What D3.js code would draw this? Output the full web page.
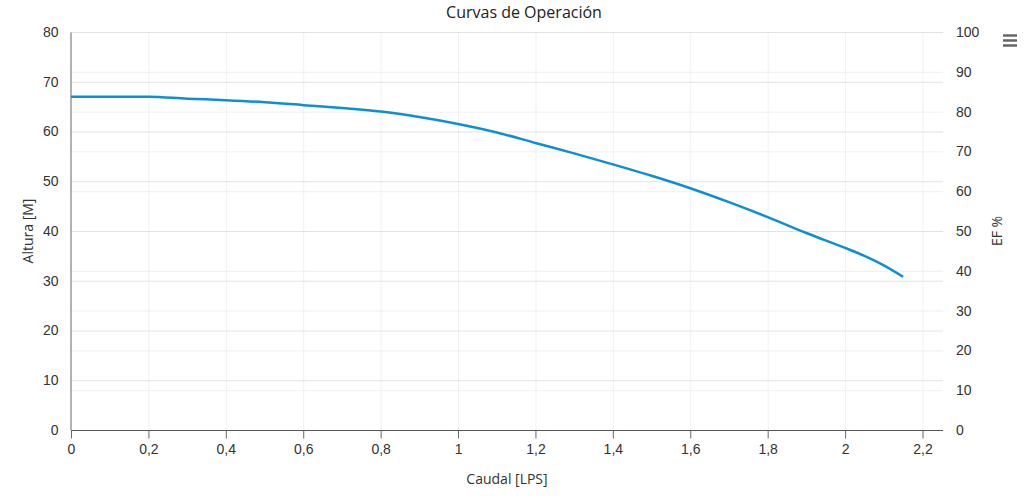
<!DOCTYPE html>
<html>
<head>
<meta charset="utf-8">
<script src="https://cdn.jsdelivr.net/npm/d3@7"></script>
<style>
  body { margin: 0; background: #fff; }
  svg { font-family: "Open Sans", "Noto Sans", sans-serif; }
</style>
</head>
<body>
<svg id="chart" width="1024" height="501"></svg>
<script>
// caudal (LPS) and altura (M)
var caudal = [0, 0.2, 0.3, 0.4, 0.5, 0.6, 0.7, 0.8, 0.9, 1.0, 1.1, 1.2, 1.3, 1.4, 1.5, 1.6, 1.7, 1.8, 1.9, 2.0, 2.05, 2.1, 2.15];
var altura = [67, 67, 66.6, 66.3, 65.9, 65.3, 64.7, 64.0, 62.9, 61.5, 59.8, 57.7, 55.6, 53.4, 51.1, 48.6, 45.8, 42.8, 39.6, 36.6, 35.0, 33.1, 30.8];
var xTicks = [0, 0.2, 0.4, 0.6, 0.8, 1, 1.2, 1.4, 1.6, 1.8, 2, 2.2];
var leftTicks = [0, 10, 20, 30, 40, 50, 60, 70, 80];
var rightTicks = [0, 10, 20, 30, 40, 50, 60, 70, 80, 90, 100];

var svg = d3.select("#chart"),
    plotL = 71, plotR = 943, plotT = 32, plotB = 430;

var x = d3.scaleLinear().domain([0, 2.253]).range([plotL, plotR]);
var y = d3.scaleLinear().domain([0, 80]).range([plotB, plotT]);
var y2 = d3.scaleLinear().domain([0, 100]).range([plotB, plotT]);

var fmt = function(d){ return String(d).replace(".", ","); };

// vertical grid
svg.append("g").selectAll("line")
   .data(xTicks.filter(function(d){ return d > 0; }))
   .enter().append("line")
   .attr("x1", function(d){ return x(d) + 0.5; }).attr("x2", function(d){ return x(d) + 0.5; })
   .attr("y1", plotT).attr("y2", plotB)
   .style("stroke", "#f0f0f0");

// horizontal grid, both axes
svg.append("g").selectAll("line")
   .data(rightTicks)
   .enter().append("line")
   .attr("x1", plotL).attr("x2", plotR)
   .attr("y1", function(d){ return y2(d) + 0.5; }).attr("y2", function(d){ return y2(d) + 0.5; })
   .style("stroke", "#efefef");
svg.append("g").selectAll("line")
   .data(leftTicks)
   .enter().append("line")
   .attr("x1", plotL).attr("x2", plotR)
   .attr("y1", function(d){ return y(d) + 0.5; }).attr("y2", function(d){ return y(d) + 0.5; })
   .style("stroke", "#e3e3e3");

// x axis
var gx = svg.append("g")
   .attr("transform", "translate(0," + (plotB + 0.5) + ")")
   .call(d3.axisBottom(x).tickValues(xTicks).tickFormat(fmt).tickSize(8).tickPadding(6));
gx.select(".domain").style("stroke", "#555").attr("d", "M" + plotL + ",0H" + plotR);
gx.selectAll(".tick line").style("stroke", "#666");
gx.selectAll("text").style("font-size", "14px").style("fill", "#333");

// left axis
var gy = svg.append("g")
   .attr("transform", "translate(" + (plotL - 0.5) + ",0)")
   .call(d3.axisLeft(y).tickValues(leftTicks).tickSize(0).tickPadding(12));
gy.select(".domain").style("stroke", "#999").style("stroke-width", 1.5);
gy.selectAll("text").style("font-size", "14px").style("fill", "#333");

// right axis
var gy2 = svg.append("g")
   .attr("transform", "translate(" + plotR + ",0)")
   .call(d3.axisRight(y2).tickValues(rightTicks).tickSize(0).tickPadding(13));
gy2.select(".domain").remove();
gy2.selectAll("text").style("font-size", "14px").style("fill", "#333");

// curve
var data = caudal.map(function(c, i){ return { q: c, h: altura[i] }; });
svg.append("path")
   .datum(data)
   .attr("d", d3.line()
       .x(function(d){ return x(d.q); })
       .y(function(d){ return y(d.h); })
       .curve(d3.curveMonotoneX))
   .style("fill", "none")
   .style("stroke", "#0d8fd6")
   .style("stroke-width", 2.5);

// titles
svg.append("text")
   .attr("x", 524).attr("y", 18)
   .attr("text-anchor", "middle")
   .style("font-size", "16px").style("fill", "#222")
   .text("Curvas de Operación");

svg.append("text")
   .attr("x", 507).attr("y", 484)
   .attr("text-anchor", "middle")
   .style("font-size", "14px").style("fill", "#333")
   .text("Caudal [LPS]");

svg.append("text")
   .attr("transform", "translate(33,231) rotate(-90)")
   .attr("text-anchor", "middle")
   .style("font-size", "14px").style("fill", "#333")
   .text("Altura [M]");

svg.append("text")
   .attr("transform", "translate(1002,231) rotate(-90)")
   .attr("text-anchor", "middle")
   .style("font-size", "14px").style("fill", "#333")
   .text("EF %");

// menu icon
svg.append("g").selectAll("line")
   .data([0, 5, 10])
   .enter().append("line")
   .attr("x1", 1003).attr("x2", 1017)
   .attr("y1", function(d){ return 35.5 + d; }).attr("y2", function(d){ return 35.5 + d; })
   .style("stroke", "#666").style("stroke-width", 2.5);
</script>
</body>
</html>
